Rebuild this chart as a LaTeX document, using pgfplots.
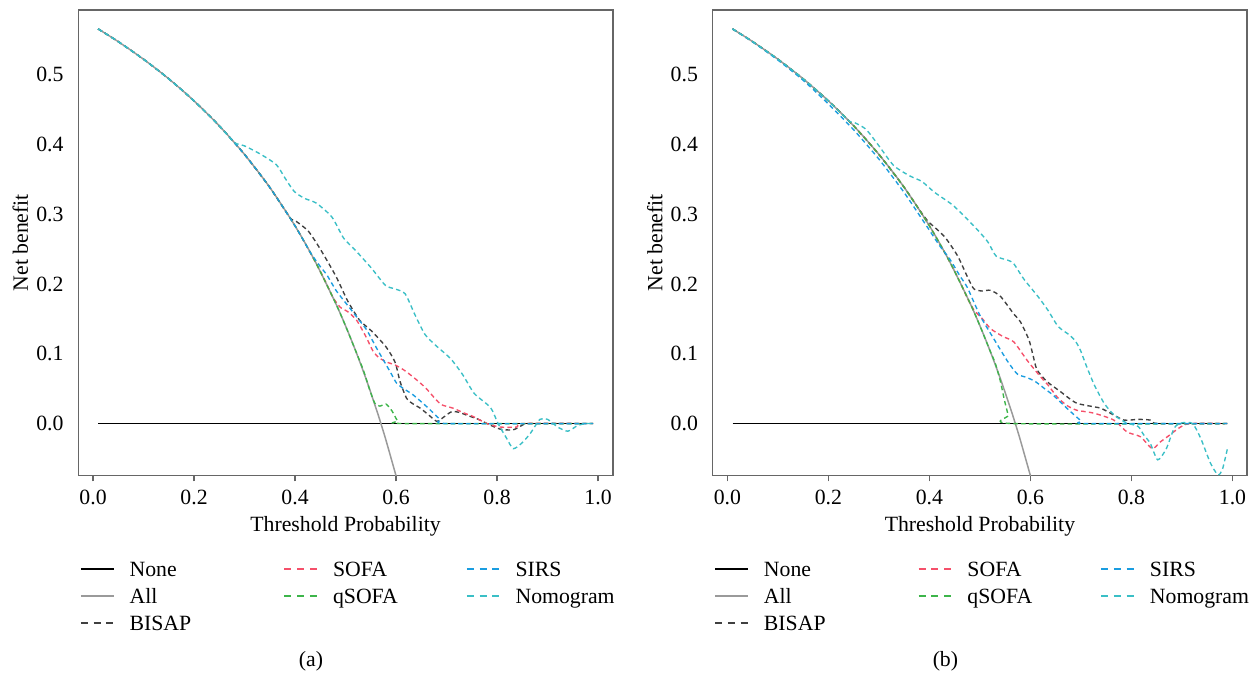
\documentclass[border=0pt]{standalone}
\usepackage{fontspec}
\setmainfont{Liberation Serif}
\usepackage{pgfplots}
\pgfplotsset{compat=1.18}

\definecolor{allc}{HTML}{9A9A9A}
\definecolor{bisapc}{HTML}{404040}
\definecolor{sofac}{HTML}{F5506A}
\definecolor{qsofac}{HTML}{3DB54A}
\definecolor{sirsc}{HTML}{1A9DE0}
\definecolor{nomoc}{HTML}{3ABFC6}
\definecolor{framec}{HTML}{666666}

\newcommand{\fs}{\fontsize{8.7}{10}\selectfont}
\newcommand{\ca}[1]{\hspace*{6pt}\makebox[61.6pt][l]{#1}}
\newcommand{\cb}[1]{\hspace*{6pt}\makebox[53.2pt][l]{#1}}
\newcommand{\cc}[1]{\hspace*{6pt}#1}

\pgfplotsset{
  dca/.style={
    scale only axis, width=213.8pt, height=186.12pt,
    xmin=-0.0292, xmax=1.0292, ymin=-0.0742, ymax=0.5928,
    clip mode=individual,
    axis line style={draw=framec, line width=0.6pt},
    xtick={0,0.2,0.4,0.6,0.8,1.0}, ytick={0,0.1,0.2,0.3,0.4,0.5},
    xtick pos=bottom, ytick pos=left,
    tick align=outside, major tick length=2.4pt,
    xtick style={draw=framec, line width=0.6pt},
    ytick style={draw=none},
    ticklabel style={font=\fs},
    xticklabel style={/pgf/number format/.cd, fixed, fixed zerofill, precision=1, assume math mode=true},
    yticklabel style={/pgf/number format/.cd, fixed, fixed zerofill, precision=1, assume math mode=true},
    xlabel={Threshold Probability}, ylabel={Net benefit},
    label style={font=\fs},
    xlabel style={at={(axis description cs:0.5,-0.1096)}, anchor=center},
    ylabel style={at={(axis description cs:-0.1085,0.5)}, anchor=center},
    legend columns=3,
    legend style={at={(axis description cs:0.0033,-0.1788)}, anchor=north west,
      draw=none, fill=none, inner sep=0pt, outer sep=0pt,
      row sep=0pt, column sep=0pt, font=\fs,
      nodes={inner sep=0pt, text height=7pt, text depth=3.8pt, anchor=base west}},
    legend image code/.code={\draw[#1] (0pt,2.8pt) -- (13.2pt,2.8pt);},
  },
  solidl/.style={line width=0.6pt},
  dashl/.style={line width=0.55pt, dash pattern=on 1.8pt off 1.3pt, smooth, tension=0.4},
  dashleg/.style={line width=0.6pt, dash pattern=on 2.8pt off 2.3pt},
}

\begin{document}
\begin{tikzpicture}
\useasboundingbox (0,0) rectangle (502.8pt,271.2pt);

% ---------------- panel (a) ----------------
\begin{axis}[dca, at={(31.32pt,81.08pt)}, anchor=south west]
% None
\addplot[solidl, black, forget plot] coordinates {(0.01,0) (0.99,0)};
% All
\addplot[solidl, allc, smooth, forget plot] coordinates {
 (0.01,0.5657) (0.05,0.5474) (0.10,0.5222) (0.15,0.4941) (0.20,0.4625) (0.25,0.4267)
 (0.30,0.3857) (0.35,0.3385) (0.40,0.2833) (0.44,0.2321) (0.48,0.1731) (0.50,0.1400)
 (0.52,0.1042) (0.54,0.0652) (0.56,0.0227) (0.57,0.0) (0.58,-0.0238) (0.60,-0.0750)};
% BISAP
\addplot[dashl, bisapc, forget plot] coordinates {
 (0.01,0.5657) (0.05,0.5474) (0.10,0.5222) (0.15,0.4941) (0.20,0.4625) (0.25,0.4267)
 (0.30,0.3857) (0.35,0.3385) (0.39,0.2951) (0.40,0.291) (0.426,0.276) (0.45,0.250)
 (0.481,0.211) (0.504,0.176) (0.528,0.148) (0.551,0.133) (0.58,0.110) (0.598,0.088)
 (0.608,0.060) (0.621,0.036) (0.634,0.028) (0.648,0.022) (0.665,0.012) (0.681,0.003)
 (0.692,0.008) (0.710,0.017) (0.725,0.016) (0.740,0.012) (0.763,0.006) (0.780,0.0)
 (0.806,-0.008) (0.832,-0.009) (0.851,-0.002) (0.865,0) (0.99,0)};
% SOFA
\addplot[dashl, sofac, forget plot] coordinates {
 (0.01,0.5657) (0.05,0.5474) (0.10,0.5222) (0.15,0.4941) (0.20,0.4625) (0.25,0.4267)
 (0.30,0.3857) (0.35,0.3385) (0.40,0.2833) (0.44,0.2321) (0.46,0.2037) (0.475,0.181)
 (0.489,0.167) (0.505,0.160) (0.522,0.148) (0.540,0.125) (0.555,0.103) (0.567,0.094)
 (0.582,0.088) (0.598,0.084) (0.615,0.077) (0.628,0.070) (0.645,0.060) (0.660,0.050)
 (0.677,0.036) (0.690,0.027) (0.713,0.022) (0.735,0.015) (0.753,0.010) (0.78,0.0)
 (0.806,-0.005) (0.839,-0.005) (0.851,0) (0.99,0)};
% qSOFA
\addplot[dashl, qsofac, forget plot] coordinates {
 (0.01,0.5657) (0.05,0.5474) (0.10,0.5222) (0.15,0.4941) (0.20,0.4625) (0.25,0.4267)
 (0.30,0.3857) (0.35,0.3385) (0.40,0.2833) (0.44,0.2321) (0.48,0.1731) (0.50,0.1400)
 (0.52,0.1042) (0.535,0.077) (0.548,0.048) (0.558,0.029) (0.568,0.025) (0.58,0.028)
 (0.592,0.018) (0.603,0.004) (0.615,0) (0.99,0)};
% SIRS
\addplot[dashl, sirsc, forget plot] coordinates {
 (0.01,0.5657) (0.05,0.5474) (0.10,0.5222) (0.15,0.4941) (0.20,0.4625) (0.25,0.4267)
 (0.30,0.3857) (0.35,0.3385) (0.40,0.2833) (0.43,0.2456) (0.45,0.225) (0.463,0.213)
 (0.482,0.190) (0.509,0.165) (0.525,0.150) (0.542,0.134) (0.56,0.110) (0.575,0.091)
 (0.59,0.072) (0.601,0.058) (0.615,0.050) (0.634,0.041) (0.661,0.024) (0.687,0.006)
 (0.70,0) (0.99,0)};
% Nomogram
\addplot[dashl, nomoc, forget plot] coordinates {
 (0.01,0.5657) (0.05,0.5474) (0.10,0.5222) (0.15,0.4941) (0.20,0.4625) (0.25,0.4267)
 (0.28,0.4028) (0.30,0.398) (0.332,0.386) (0.363,0.371) (0.38,0.352) (0.398,0.333)
 (0.418,0.323) (0.442,0.316) (0.473,0.296) (0.496,0.266) (0.520,0.248) (0.551,0.223)
 (0.579,0.198) (0.598,0.193) (0.618,0.186) (0.638,0.155) (0.657,0.128) (0.677,0.113)
 (0.708,0.093) (0.732,0.070) (0.755,0.043) (0.787,0.023) (0.802,0.0) (0.818,-0.020)
 (0.832,-0.036) (0.849,-0.028) (0.865,-0.015) (0.885,0.006) (0.900,0.006) (0.920,-0.005)
 (0.940,-0.011) (0.959,-0.003) (0.975,0) (0.99,0)};
% legend (row by row)
\addlegendimage{solidl, black}\addlegendentry{\ca{None}}
\addlegendimage{dashleg, sofac}\addlegendentry{\cb{SOFA}}
\addlegendimage{dashleg, sirsc}\addlegendentry{\cc{SIRS}}
\addlegendimage{solidl, allc}\addlegendentry{\ca{All}}
\addlegendimage{dashleg, qsofac}\addlegendentry{\cb{qSOFA}}
\addlegendimage{dashleg, nomoc}\addlegendentry{\cc{Nomogram}}
\addlegendimage{dashleg, bisapc}\addlegendentry{\ca{BISAP}}
\node[font=\fs] at (axis description cs:0.4354,-0.3992) {(a)};
\end{axis}

% ---------------- panel (b) ----------------
\begin{axis}[dca, at={(285.08pt,81.08pt)}, anchor=south west]
% None
\addplot[solidl, black, forget plot] coordinates {(0.01,0) (0.99,0)};
% All
\addplot[solidl, allc, smooth, forget plot] coordinates {
 (0.01,0.5657) (0.05,0.5474) (0.10,0.5222) (0.15,0.4941) (0.20,0.4625) (0.25,0.4267)
 (0.30,0.3857) (0.35,0.3385) (0.40,0.2833) (0.44,0.2321) (0.48,0.1731) (0.50,0.1400)
 (0.52,0.1042) (0.54,0.0652) (0.56,0.0227) (0.57,0.0) (0.58,-0.0238) (0.60,-0.0750)};
% BISAP
\addplot[dashl, bisapc, forget plot] coordinates {
 (0.01,0.5657) (0.05,0.5474) (0.10,0.5222) (0.15,0.4941) (0.20,0.4625) (0.25,0.4267)
 (0.30,0.3857) (0.35,0.3385) (0.38,0.3065) (0.397,0.290) (0.417,0.277) (0.433,0.265)
 (0.456,0.240) (0.476,0.209) (0.488,0.193) (0.504,0.190) (0.521,0.191) (0.541,0.182)
 (0.567,0.157) (0.58,0.146) (0.597,0.120) (0.605,0.098) (0.613,0.077) (0.633,0.060)
 (0.659,0.046) (0.675,0.037) (0.692,0.029) (0.718,0.025) (0.739,0.022) (0.758,0.015)
 (0.785,0.005) (0.813,0.006) (0.837,0.005) (0.853,0) (0.99,0)};
% SOFA
\addplot[dashl, sofac, forget plot] coordinates {
 (0.01,0.5657) (0.05,0.5474) (0.10,0.5222) (0.15,0.4941) (0.20,0.4625) (0.25,0.4267)
 (0.30,0.3857) (0.35,0.3385) (0.40,0.2833) (0.44,0.2321) (0.46,0.2037) (0.475,0.180)
 (0.488,0.163) (0.505,0.150) (0.521,0.136) (0.545,0.125) (0.567,0.117) (0.593,0.091)
 (0.620,0.067) (0.635,0.055) (0.653,0.038) (0.672,0.026) (0.692,0.019) (0.725,0.015)
 (0.765,0.005) (0.791,-0.012) (0.818,-0.019) (0.841,-0.036) (0.856,-0.027) (0.871,-0.019)
 (0.897,-0.005) (0.917,0) (0.99,0)};
% qSOFA
\addplot[dashl, qsofac, forget plot] coordinates {
 (0.01,0.5657) (0.05,0.5474) (0.10,0.5222) (0.15,0.4941) (0.20,0.4625) (0.25,0.4267)
 (0.30,0.3857) (0.35,0.3385) (0.40,0.2833) (0.44,0.2321) (0.48,0.1731) (0.50,0.1400)
 (0.52,0.1042) (0.53,0.087) (0.54,0.062) (0.548,0.035) (0.556,0.012) (0.563,0) (0.99,0)};
% SIRS
\addplot[dashl, sirsc, forget plot] coordinates {
 (0.01,0.5657) (0.05,0.547) (0.10,0.521) (0.15,0.492) (0.20,0.458) (0.25,0.421)
 (0.30,0.379) (0.35,0.331) (0.40,0.277) (0.42,0.255) (0.44,0.236) (0.46,0.212)
 (0.475,0.195) (0.50,0.155) (0.527,0.122) (0.554,0.090) (0.574,0.071) (0.593,0.066)
 (0.61,0.060) (0.628,0.050) (0.646,0.040) (0.675,0.020) (0.70,0.004) (0.71,0) (0.99,0)};
% Nomogram
\addplot[dashl, nomoc, forget plot] coordinates {
 (0.01,0.5657) (0.05,0.5474) (0.10,0.5222) (0.15,0.4941) (0.20,0.4625) (0.24,0.4342)
 (0.25,0.432) (0.274,0.422) (0.298,0.400) (0.329,0.370) (0.361,0.355) (0.385,0.347)
 (0.409,0.332) (0.433,0.320) (0.448,0.312) (0.472,0.295) (0.496,0.277) (0.516,0.260)
 (0.532,0.240) (0.556,0.234) (0.567,0.229) (0.587,0.207) (0.615,0.182) (0.635,0.162)
 (0.655,0.139) (0.679,0.126) (0.690,0.117) (0.699,0.105) (0.710,0.084) (0.726,0.056)
 (0.746,0.029) (0.766,0.012) (0.790,0.001) (0.813,-0.004) (0.824,-0.016) (0.837,-0.028)
 (0.852,-0.052) (0.869,-0.036) (0.885,-0.006) (0.900,0.001) (0.921,0) (0.937,-0.021)
 (0.956,-0.056) (0.971,-0.0735) (0.980,-0.066) (0.99,-0.036)};
% legend (row by row)
\addlegendimage{solidl, black}\addlegendentry{\ca{None}}
\addlegendimage{dashleg, sofac}\addlegendentry{\cb{SOFA}}
\addlegendimage{dashleg, sirsc}\addlegendentry{\cc{SIRS}}
\addlegendimage{solidl, allc}\addlegendentry{\ca{All}}
\addlegendimage{dashleg, qsofac}\addlegendentry{\cb{qSOFA}}
\addlegendimage{dashleg, nomoc}\addlegendentry{\cc{Nomogram}}
\addlegendimage{dashleg, bisapc}\addlegendentry{\ca{BISAP}}
\node[font=\fs] at (axis description cs:0.4354,-0.3992) {(b)};
\end{axis}
\end{tikzpicture}
\end{document}
